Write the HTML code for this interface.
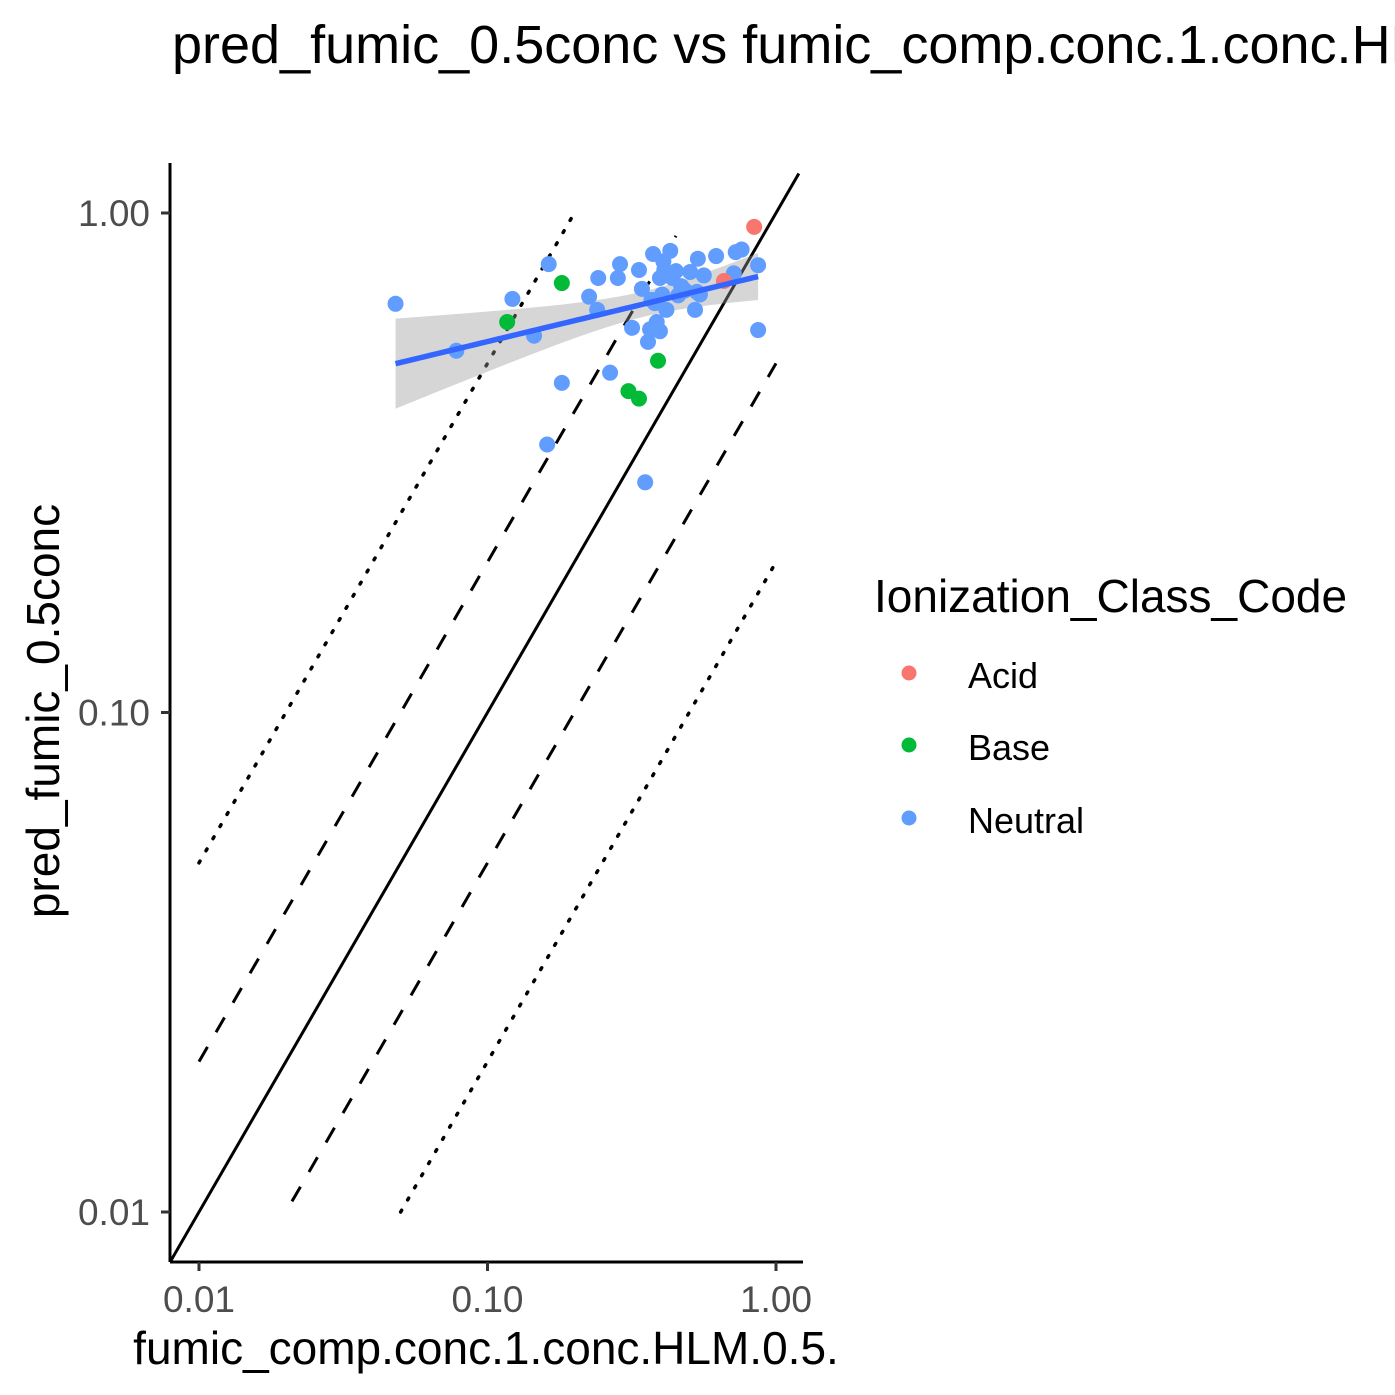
<!DOCTYPE html>
<html><head><meta charset="utf-8"><style>
html,body{margin:0;padding:0;background:#fff;}
svg{display:block;font-family:"Liberation Sans",Arial,sans-serif;}
</style></head><body>
<svg id="chart" width="1395" height="1395" viewBox="0 0 1395 1395">
<text x="172" y="63" font-size="54" fill="#000">pred_fumic_0.5conc vs fumic_comp.conc.1.conc.HLM.0.5.</text>
<defs><clipPath id="pc"><rect x="170" y="163" width="633" height="1099"/></clipPath></defs>
<g id="ref" clip-path="url(#pc)"></g>
<g id="band" clip-path="url(#pc)"></g>
<g id="pts"></g>
<g id="axes"></g>
<text x="486" y="1364" font-size="46" text-anchor="middle" fill="#000">fumic_comp.conc.1.conc.HLM.0.5.</text>
<text transform="translate(59,711) rotate(-90)" font-size="46" text-anchor="middle" fill="#000">pred_fumic_0.5conc</text>
<g>
<text x="874" y="612" font-size="46" fill="#000">Ionization_Class_Code</text>
<circle cx="909" cy="673" r="7.5" fill="#F8766D"/>
<text x="968" y="688" font-size="36" fill="#000">Acid</text>
<circle cx="909" cy="745" r="7.5" fill="#00BA38"/>
<text x="968" y="760" font-size="36" fill="#000">Base</text>
<circle cx="909" cy="818" r="7.5" fill="#619CFF"/>
<text x="968" y="833" font-size="36" fill="#000">Neutral</text>
</g>
</svg>
<script>
const xTicks=[0.01,0.1,1];
const xTickLabels=["0.01","0.10","1.00"];
const yTicks=[0.01,0.1,1];
const yTickLabels=["0.01","0.10","1.00"];
const classes=["Acid","Base","Neutral"];
const classColors=["#F8766D","#00BA38","#619CFF"];
const neutralX=[0.048,0.078,0.122,0.145,0.163,0.181,0.161,0.225,0.24,0.242,0.266,0.283,0.288,0.317,0.335,0.343,0.352,0.36,0.375,0.38,0.386,0.396,0.403,0.41,0.417,0.43,0.437,0.45,0.458,0.469,0.504,0.524,0.532,0.536,0.562,0.62,0.714,0.725,0.76,0.867,0.867,0.366,0.407,0.484,0.545,0.396,0.37];
const neutralY=[0.658,0.53,0.673,0.568,0.79,0.457,0.344,0.68,0.64,0.741,0.479,0.741,0.79,0.589,0.769,0.705,0.289,0.552,0.828,0.66,0.605,0.58,0.687,0.769,0.64,0.84,0.741,0.765,0.684,0.714,0.762,0.64,0.695,0.81,0.75,0.82,0.757,0.835,0.845,0.786,0.583,0.585,0.8,0.70,0.687,0.741,0.67];
const acidX=[0.84,0.66];
const acidY=[0.938,0.731];
const baseX=[0.117,0.181,0.308,0.335,0.39];
const baseY=[0.605,0.724,0.44,0.425,0.506];
const refX1=[0.008,0.01,0.021,0.01,0.05];
const refX2=[1.2,0.45,1,0.2,1];
const refFold=[1,2,0.5,5,0.2];
const refStyle=["solid","dash","dash","dot","dot"];

const NS="http://www.w3.org/2000/svg";
function sx(v){return 199+(Math.log10(v)+2)*288.5;}
function sy(v){return 1212-(Math.log10(v)+2)*499.5;}
function el(tag,attrs,parent){const e=document.createElementNS(NS,tag);for(const k in attrs)e.setAttribute(k,attrs[k]);parent.appendChild(e);return e;}

const ref=document.getElementById('ref');
for(let i=0;i<refFold.length;i++){
  const l=el('line',{x1:sx(refX1[i]),y1:sy(refX1[i]*refFold[i]),x2:sx(refX2[i]),y2:sy(refX2[i]*refFold[i]),stroke:'#000','stroke-width':3},ref);
  if(refStyle[i]==='dash')l.setAttribute('stroke-dasharray','17 17');
  if(refStyle[i]==='dot'){l.setAttribute('stroke-dasharray','2 12');l.setAttribute('stroke-linecap','round');l.setAttribute('stroke-width',3.5);}
  
  
}

const allX=neutralX.concat(acidX,baseX), allY=neutralY.concat(acidY,baseY);
const lx=allX.map(Math.log10), ly=allY.map(Math.log10), n=lx.length;
const mx=lx.reduce((a,b)=>a+b)/n, my=ly.reduce((a,b)=>a+b)/n;
let sxx=0,sxy=0;for(let i=0;i<n;i++){sxx+=(lx[i]-mx)**2;sxy+=(lx[i]-mx)*(ly[i]-my);}
const b=sxy/sxx,a=my-b*mx;
let sse=0;for(let i=0;i<n;i++)sse+=(ly[i]-a-b*lx[i])**2;
const s=Math.sqrt(sse/(n-2)), t=2.01;
const xmin=Math.min(...lx), xmax=Math.max(...lx);
const up=[],lo=[],mid=[];
for(let k=0;k<=60;k++){
  const x=xmin+(xmax-xmin)*k/60, f=a+b*x, se=s*Math.sqrt(1/n+(x-mx)**2/sxx);
  const px=sx(10**x);
  up.push(px+','+sy(10**(f+t*se)));lo.push(px+','+sy(10**(f-t*se)));mid.push(px+','+sy(10**f));
}
const band=document.getElementById('band');
const bp=el('polygon',{points:up.concat(lo.reverse()).join(' '),fill:'#999',opacity:0.4},band);



const pts=document.getElementById('pts');
function drawSeries(X,Y,color,name){
  for(let i=0;i<X.length;i++){
    const c=el('circle',{cx:sx(X[i]),cy:sy(Y[i]),r:8,fill:color},pts);
    
    
  }
}
drawSeries(neutralX,neutralY,classColors[2],'neutral');
drawSeries(acidX,acidY,classColors[0],'acid');
drawSeries(baseX,baseY,classColors[1],'base');
const fl=el('polyline',{points:mid.join(' '),fill:'none',stroke:'#3366FF','stroke-width':5.5},pts);



const ax=document.getElementById('axes');
const xl=el('line',{x1:170,y1:1262,x2:803,y2:1262,stroke:'#000','stroke-width':3},ax);


const yl=el('line',{x1:170,y1:163,x2:170,y2:1262,stroke:'#000','stroke-width':3},ax);


xTicks.forEach((v,i)=>{
  const tk=el('line',{x1:sx(v),y1:1262,x2:sx(v),y2:1271,stroke:'#333','stroke-width':3},ax);
  
  
  const tx=el('text',{x:sx(v),y:1312,'font-size':37,'text-anchor':'middle',fill:'#4d4d4d'},ax);
  tx.textContent=xTickLabels[i];
  
  
});
yTicks.forEach((v,i)=>{
  const tk=el('line',{x1:161,y1:sy(v),x2:170,y2:sy(v),stroke:'#333','stroke-width':3},ax);
  
  
  const tx=el('text',{x:150,y:sy(v)+13,'font-size':37,'text-anchor':'end',fill:'#4d4d4d'},ax);
  tx.textContent=yTickLabels[i];
  
  
});
</script>
</body></html>
